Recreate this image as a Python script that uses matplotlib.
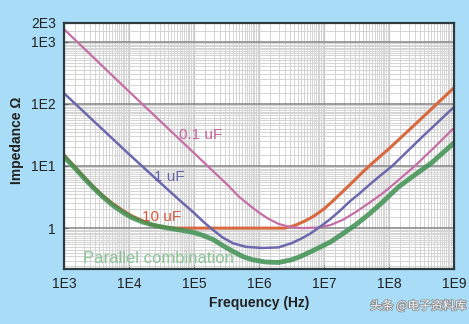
import matplotlib
matplotlib.use("Agg")
import matplotlib.pyplot as plt
import matplotlib.patheffects as pe
from matplotlib.ticker import FixedLocator, LogLocator, NullFormatter
import numpy as np

plt.rcParams["font.family"] = ["Liberation Sans Narrow", "Liberation Sans", "DejaVu Sans"]

# ---- impedance curves (Hz, ohm) ----
f_10u = [1.0e3, 1.4e3, 2.0e3, 2.8e3, 4.0e3, 5.6e3, 7.9e3, 1.1e4, 1.6e4, 2.2e4, 3.2e4,
         5.0e4, 2.5e6, 3.5e6, 5.0e6, 7.1e6, 1.0e7, 1.4e7, 2.0e7, 2.8e7, 4.0e7,
         5.6e7, 1.0e8, 3.2e8, 1.0e9]
z_10u = [15.1, 10.2, 6.8, 4.7, 3.3, 2.5, 1.95, 1.58, 1.32, 1.15, 1.05,
         1.0, 1.0, 1.1, 1.29, 1.58, 2.04, 2.8, 4.0, 5.6, 8.1,
         11.2, 19.0, 59.0, 182.0]

f_1u = [1.0e3, 1.0e4, 3.2e4, 5.6e4, 1.0e5, 1.4e5, 2.0e5, 2.8e5, 4.0e5, 6.3e5, 1.1e6,
        2.0e6, 3.2e6, 4.5e6, 6.3e6, 8.9e6, 1.26e7, 1.8e7, 2.5e7, 3.5e7, 5.0e7,
        7.1e7, 1.12e8, 3.2e8, 1.0e9]
z_1u = [148.0, 15.5, 5.1, 3.0, 1.76, 1.26, 0.92, 0.70, 0.57, 0.50, 0.48,
        0.49, 0.575, 0.68, 0.83, 1.07, 1.41, 1.95, 2.7, 3.6, 5.0,
        6.8, 10.0, 29.0, 89.0]

f_100n = [1.0e3, 1.0e4, 1.0e5, 2.0e5, 3.2e5, 5.0e5, 7.1e5, 1.0e6, 1.4e6, 2.0e6, 2.8e6,
          4.5e6, 7.9e6, 1.26e7, 2.0e7, 3.2e7, 5.0e7, 7.9e7, 1.26e8, 2.5e8, 5.0e8, 1.0e9]
z_100n = [1590.0, 158.0, 16.2, 8.1, 5.1, 3.16, 2.34, 1.78, 1.41, 1.17, 1.06,
          1.0, 1.02, 1.12, 1.38, 1.86, 2.57, 3.6, 5.4, 10.0, 20.0, 41.0]

f_par = [1.0e3, 1.4e3, 2.0e3, 2.8e3, 4.0e3, 5.6e3, 7.9e3, 1.1e4, 1.6e4, 2.5e4, 4.0e4,
         6.3e4, 1.0e5, 1.4e5, 2.0e5, 2.8e5, 4.0e5, 5.6e5, 7.9e5, 1.26e6, 2.0e6,
         3.2e6, 4.5e6, 6.3e6, 8.9e6, 1.26e7, 2.0e7, 3.2e7, 5.0e7, 7.9e7, 1.4e8,
         2.5e8, 4.5e8, 1.0e9]
z_par = [14.1, 9.8, 6.5, 4.5, 3.16, 2.34, 1.82, 1.48, 1.26, 1.1, 1.0,
         0.93, 0.85, 0.76, 0.65, 0.52, 0.42, 0.35, 0.31, 0.285, 0.28,
         0.31, 0.355, 0.42, 0.50, 0.60, 0.83, 1.17, 1.7, 2.6, 4.6,
         7.2, 11.2, 23.5]

fig = plt.figure(figsize=(4.69, 3.24), dpi=100)
fig.patch.set_facecolor("#a9dcf6")
ax = fig.add_axes([64 / 469, 1 - 269 / 324, 390 / 469, 246 / 324])
ax.set_facecolor("white")

ax.set_xscale("log")
ax.set_yscale("log")
ax.set_xlim(1e3, 1e9)
ax.set_ylim(0.22, 2000)

# grid: dense light lines, darker horizontal decade lines
ax.xaxis.set_minor_locator(LogLocator(base=10, subs=np.arange(1.5, 10, 0.5), numticks=20))
ax.yaxis.set_minor_locator(LogLocator(base=10, subs=np.arange(1.5, 10, 0.5), numticks=20))
ax.xaxis.set_minor_formatter(NullFormatter())
ax.yaxis.set_minor_formatter(NullFormatter())
ax.grid(which="minor", axis="both", color="#d4d4d4", linewidth=0.7)
ax.grid(which="major", axis="x", color="#c8c8c8", linewidth=0.9)
ax.grid(which="major", axis="y", color="#8c8c8c", linewidth=1.2)
ax.set_axisbelow(True)

ax.xaxis.set_major_locator(FixedLocator([1e3, 1e4, 1e5, 1e6, 1e7, 1e8, 1e9]))
ax.set_xticklabels(["1E3", "1E4", "1E5", "1E6", "1E7", "1E8", "1E9"])
ax.yaxis.set_major_locator(FixedLocator([1, 10, 100, 1000, 2000]))
ax.set_yticklabels(["1", "1E1", "1E2", "1E3", "2E3"])
ax.tick_params(which="major", direction="in", length=3, width=0.8, color="#666666",
               labelsize=10, labelcolor="#222222", pad=6)
ax.tick_params(which="minor", length=0)

for s in ax.spines.values():
    s.set_color("#2e3a40")
    s.set_linewidth(1.6)

ax.plot(f_10u, z_10u, color="#d8693f", linewidth=2.2, solid_capstyle="round")
ax.plot(f_100n, z_100n, color="#c56fa6", linewidth=1.6)
ax.plot(f_1u, z_1u, color="#6b68ad", linewidth=1.8)
ax.plot(f_par, z_par, color="#3f9152", linewidth=3.5, alpha=0.85)

lbl_font = ["Liberation Sans", "DejaVu Sans"]
ax.text(1.25e5, 31.6, "0.1 uF", color="#c4649e", fontsize=11, ha="center", va="center",
        family=lbl_font)
ax.text(4.2e4, 6.6, "1 uF", color="#6363a8", fontsize=11, ha="center", va="center",
        family=lbl_font)
ax.text(3.2e4, 1.5, "10 uF", color="#d9573a", fontsize=11, ha="center", va="center",
        family=lbl_font)
ax.text(2.8e4, 0.32, "Parallel combination", color="#8cc497", fontsize=12,
        ha="center", va="center", family=lbl_font)

fig.text(259 / 469, 1 - 303 / 324, "Frequency (Hz)", ha="center", va="center",
         fontsize=10, fontweight="bold", color="#222222")
fig.text(17 / 469, 1 - 140 / 324, "Impedance Ω", ha="center", va="center",
         rotation=90, fontsize=10, fontweight="bold", color="#222222")

fig.text(418 / 469, 1 - 306 / 324, "头条 @电子资料库", ha="center", va="center",
         fontsize=8.5, color="#f4f4f4", family=["Noto Sans CJK SC", "DejaVu Sans"],
         path_effects=[pe.withStroke(linewidth=1.2, foreground="#8a8f94")])

fig.savefig("out.png", dpi=100, facecolor=fig.get_facecolor())
